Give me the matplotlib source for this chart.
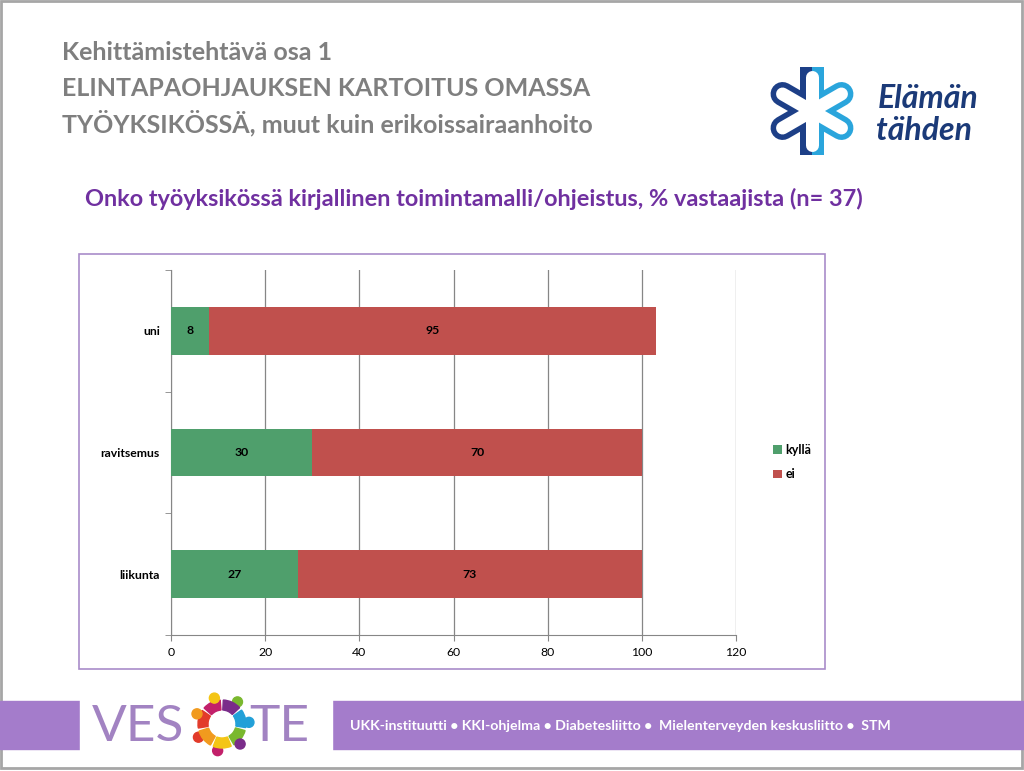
import numpy as np
import matplotlib.pyplot as plt
from matplotlib.patches import Rectangle, Wedge, Circle

## Data
categories = ["liikunta", "ravitsemus", "uni"]
kylla = [27, 30, 8]
ei = [73, 70, 95]
x_ticks = [0, 20, 40, 60, 80, 100, 120]

green = "#4F9F6C"
red = "#C0504D"
grey_txt = "#7F7F7F"

plt.rcParams['font.family'] = ['Lato', 'DejaVu Sans']

W, H = 1024, 771
fig = plt.figure(figsize=(W / 100, H / 100), dpi=100)

## Background overlay in pixel coordinates
bg = fig.add_axes([0, 0, 1, 1])
bg.set_xlim(0, W)
bg.set_ylim(H, 0)
bg.axis('off')

# slide border
bg.add_patch(Rectangle((1, 1), W - 3, H - 4, fill=False, ec="#A6A6A6", lw=2))

# titles
title_lines = ["Kehittämistehtävä osa 1",
               "ELINTAPAOHJAUKSEN KARTOITUS OMASSA",
               "TYÖYKSIKÖSSÄ, muut kuin erikoissairaanhoito"]
for i, t in enumerate(title_lines):
    bg.text(62, 53 + i * 35, t, fontsize=18, fontweight='bold',
            color=grey_txt, va='center', ha='left')

bg.text(85, 199, "Onko työyksikössä kirjallinen toimintamalli/ohjeistus, % vastaajista (n= 37)",
        fontsize=16.9, fontweight='bold', color="#7030A0", va='center', ha='left')

# Elämän tähden logo
cx, cy = 812, 111
dark, light = "#1D3F87", "#2AA5DC"
L = 34
for ang, col in [(150, dark), (210, dark), (30, light), (330, light)]:
    a = np.deg2rad(ang)
    bg.plot([cx, cx + L * np.cos(a)], [cy, cy - L * np.sin(a)], color=col,
            lw=24 * 0.72, solid_capstyle='round', zorder=3)
for dx, col in [(-6, dark), (6, light)]:
    bg.plot([cx + dx, cx + dx], [cy - L - 10, cy + L + 10], color=col,
            lw=12 * 0.72, solid_capstyle='butt', zorder=3)
for ang in [150, 210, 30, 330, 90, 270]:
    a = np.deg2rad(ang)
    bg.plot([cx, cx + L * np.cos(a)], [cy, cy - L * np.sin(a)], color='white',
            lw=13 * 0.72, solid_capstyle='round', zorder=4)
bg.text(878, 98, "Elämän", fontsize=23, fontweight='bold', style='italic',
        color="#1B3A78", va='center', ha='left')
bg.text(876, 131, "tähden", fontsize=23, fontweight='bold', style='italic',
        color="#1B3A78", va='center', ha='left')

# footer band
band = "#A47CCB"
bg.add_patch(Rectangle((0, 701), W, 48, color=band, zorder=1))
bg.add_patch(Rectangle((80, 697), 252, 58, color='white', zorder=2))
bg.text(350, 726, "UKK-instituutti • KKI-ohjelma • Diabetesliitto •  Mielenterveyden keskusliitto •  STM",
        fontsize=10.2, fontweight='bold', color='white', va='center', ha='left', zorder=3)

# VESOTE logo
bg.text(92, 727, "VES", fontsize=37, fontweight='normal', color="#A283C2",
        va='center', ha='left', zorder=3)
bg.text(249, 727, "TE", fontsize=37, fontweight='normal', color="#A283C2",
        va='center', ha='left', zorder=3)
ring_cols = ["#7AB82E", "#22A0D8", "#7A2C8A", "#C2206A", "#E23B2A", "#F19A1E", "#F4C515"]
rx, ry = 222, 724
for k, c in enumerate(ring_cols):
    th1 = 60 - k * 360 / len(ring_cols)
    bg.add_patch(Wedge((rx, ry), 24, th1 - 44, th1, width=10, color=c, zorder=3))
    a = np.deg2rad(th1 - 5)
    bg.add_patch(Circle((rx + 27 * np.cos(a), ry - 27 * np.sin(a)), 5, color=c, zorder=3))

# chart frame
bg.add_patch(Rectangle((79, 254), 746, 415, fill=False, ec="#A98CC9", lw=1.2))

## Chart
ax = fig.add_axes([171 / W, (H - 635) / H, 565 / W, 365 / H])
y = np.arange(len(categories))
bh = 0.39
b1 = ax.barh(y, kylla, height=bh, color=green, label="kyllä", zorder=3)
b2 = ax.barh(y, ei, left=kylla, height=bh, color=red, label="ei", zorder=3)
for bars in (b1, b2):
    ax.bar_label(bars, label_type='center', fontsize=8.8, fontweight='bold', color='black')

ax.set_xlim(0, 120)
ax.set_ylim(-0.5, 2.5)
ax.set_xticks(x_ticks)
ax.set_xticklabels([str(v) for v in x_ticks], fontsize=8.8)
ax.set_yticks(y)
ax.set_yticklabels(categories, fontsize=8.8, fontweight='bold')
ax.tick_params(axis='y', length=0, pad=8)
ax.set_yticks([-0.5, 0.5, 1.5, 2.5], minor=True)
ax.tick_params(axis='y', which='minor', length=4, color="#868686")
ax.tick_params(axis='x', length=4, color="#868686", pad=5)
ax.grid(axis='x', color="#868686", lw=0.9, zorder=0)
for s in ['top', 'right']:
    ax.spines[s].set_visible(False)
for s in ['left', 'bottom']:
    ax.spines[s].set_color("#868686")

fig.legend(handles=[b1, b2], labels=["kyllä", "ei"], loc='center left',
           bbox_to_anchor=(762 / W, 1 - 462 / H), frameon=False,
           handlelength=0.7, handleheight=0.7, handletextpad=0.3, labelspacing=1.0,
           prop={'weight': 'bold', 'size': 9})

fig.savefig("out.png", dpi=100)
